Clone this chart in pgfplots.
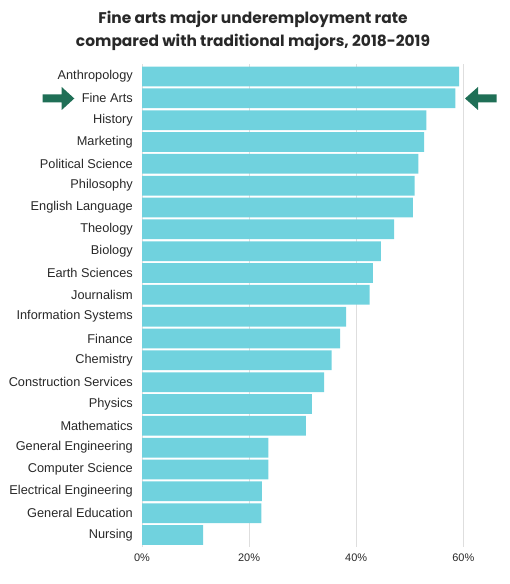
\documentclass[border=0pt]{standalone}
\usepackage{pgfplots}
\pgfplotsset{compat=1.18}
\usepackage{fontspec}
\setmainfont{Liberation Sans}
\newfontfamily\titlefont{Poppins}
\definecolor{barc}{RGB}{112,210,222}
\definecolor{arrowc}{RGB}{31,111,86}
\definecolor{gridc}{RGB}{222,222,222}
\definecolor{txt}{RGB}{40,40,40}
\begin{document}
\begin{tikzpicture}[x=1bp,y=1bp]
\path[use as bounding box] (0,0) rectangle (510,584);
\begin{axis}[at={(142bp,37bp)}, anchor=south west, scale only axis,
  width=321.3bp, height=482.5bp,
  xbar, bar width=19.7bp, bar shift=0pt,
  xmin=0, xmax=60, ymin=-0.55, ymax=21.55,
  clip=false,
  axis line style={draw=none},
  major tick length=0pt,
  xtick={0,20,40,60},
  xmajorgrids, grid style={gridc, line width=0.8pt},
  /pgf/number format/assume math mode=true,
  xticklabel={\pgfmathprintnumber{\tick}\%},
  xticklabel style={font=\fontsize{11}{13}\selectfont, text=txt, yshift=-3bp},
  ytick={0,...,21},
  yticklabels={Nursing, General Education, Electrical Engineering, Computer Science, General Engineering, Mathematics, Physics, Construction Services, Chemistry, Finance, Information Systems, Journalism, Earth Sciences, Biology, Theology, English Language, Philosophy, Political Science, Marketing, History, Fine Arts, Anthropology},
  yticklabel style={font=\fontsize{12.8}{14}\selectfont, text=txt, inner sep=0pt, xshift=-9bp},
]
\addplot[fill=barc, draw=none] coordinates {
(11.4,0) (22.3,1) (22.4,2) (23.6,3) (23.6,4) (30.6,5) (31.7,6) (34.0,7) (35.4,8) (37.0,9) (38.1,10) (42.5,11) (43.1,12) (44.6,13) (47.1,14) (50.6,15) (50.9,16) (51.6,17) (52.7,18) (53.1,19) (58.5,20) (59.2,21)
};
\end{axis}
\node[font=\titlefont\bfseries\fontsize{15.5}{17}\selectfont, anchor=base, text=txt] at (253,560) {Fine arts major underemployment rate};
\node[font=\titlefont\bfseries\fontsize{15.5}{17}\selectfont, anchor=base, text=txt] at (253,537) {compared with traditional majors, 2018-2019};
\fill[arrowc] (42.7,489.5) -- (61.7,489.5) -- (61.7,497) -- (74.3,485.5) -- (61.7,474) -- (61.7,481.5) -- (42.7,481.5) -- cycle;
\fill[arrowc] (496.7,489.5) -- (478,489.5) -- (478,497) -- (465,485.5) -- (478,474) -- (478,481.5) -- (496.7,481.5) -- cycle;
\end{tikzpicture}
\end{document}
